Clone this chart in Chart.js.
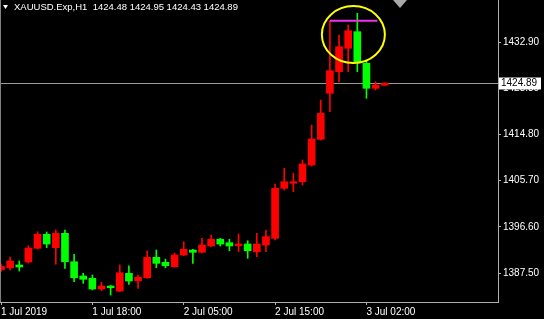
<!DOCTYPE html>
<html>
<head>
<meta charset="utf-8">
<script src="https://cdn.jsdelivr.net/npm/chart.js@4.4.1/dist/chart.umd.min.js"></script>
<style>
  html, body { margin: 0; padding: 0; background: #000; }
  #wrap { width: 544px; height: 319px; }
</style>
</head>
<body>
<div id="wrap"><canvas id="grafica" width="544" height="319"></canvas></div>
<script>
// Datos de las velas H1 (apertura, máximo, mínimo, cierre)
const simbolo = 'XAUUSD.Exp,H1';
const aperturas = [1388.1, 1388.54, 1389.07, 1389.66, 1392.36, 1395.12, 1392.48, 1395.32, 1389.72, 1386.91,
  1386.45, 1384.35, 1384.94, 1383.95, 1387.44, 1385.98, 1386.57, 1390.59, 1389.6, 1388.74,
  1391.04, 1392.03, 1391.58, 1392.82, 1394.14, 1393.47, 1392.87, 1393.21, 1391.69, 1393.01,
  1394.33, 1404.18, 1405.17, 1405.48, 1408.77, 1413.83, 1422.89, 1427.15, 1431.76, 1435.03,
  1428.8, 1423.88, 1424.48];
const maximos = [1389.3, 1390.65, 1389.86, 1392.87, 1395.63, 1395.57, 1395.97, 1395.97, 1391.18, 1387.44,
  1387.1, 1385.67, 1385.04, 1389.07, 1388.93, 1387.1, 1391.83, 1392.03, 1390.24, 1391.44,
  1393.66, 1392.17, 1394.33, 1394.98, 1394.33, 1394.14, 1395.18, 1393.86, 1395.32, 1395.97,
  1405.03, 1408.12, 1407.14, 1409.76, 1416.65, 1421.57, 1437.13, 1434.38, 1436.35, 1438.65,
  1429.45, 1425.18, 1424.95];
const minimos = [1387.8, 1388.09, 1387.89, 1389.47, 1392.22, 1392.48, 1389.21, 1388.42, 1385.78, 1385.47,
  1384.15, 1384.01, 1383.16, 1383.81, 1385.27, 1384.48, 1386.45, 1388.54, 1388.54, 1388.62,
  1390.9, 1389.41, 1391.44, 1392.68, 1392.82, 1391.89, 1391.69, 1390.39, 1390.71, 1391.69,
  1394.0, 1403.85, 1403.51, 1404.83, 1408.57, 1413.69, 1419.27, 1425.18, 1427.15, 1427.15,
  1421.91, 1423.54, 1424.43];
const cierres = [1388.8, 1389.86, 1388.68, 1392.42, 1395.12, 1393.21, 1395.32, 1389.72, 1386.57, 1386.26,
  1384.35, 1384.94, 1384.6, 1387.56, 1385.92, 1386.65, 1390.59, 1389.41, 1388.93, 1391.04,
  1392.17, 1391.58, 1393.01, 1394.14, 1393.21, 1392.82, 1393.21, 1391.89, 1393.21, 1394.65,
  1404.18, 1405.48, 1405.48, 1408.97, 1413.89, 1418.95, 1427.34, 1432.07, 1435.22, 1428.92,
  1423.88, 1424.5, 1424.89];

// Etiquetas de los ejes
const etiquetasTiempo = ['1 Jul 2019', '1 Jul 18:00', '2 Jul 05:00', '2 Jul 15:00', '3 Jul 02:00'];
const barrasTiempo = [0, 10, 20, 30, 40];
const ticksPrecio = [1387.5, 1396.6, 1405.7, 1414.8, 1423.8, 1432.9];

// Marcas dibujadas a mano sobre el gráfico
const nivelTecho = 1437.2;
const techoDesde = 36;
const techoHasta = 41.2;
const elipse = { x: 38.57, y: 1434.47, rx: 3.45, ry: 5.61 };

const ROJO = '#ff0000';
const VERDE = '#00ff00';
const fuente = '"Liberation Sans", Arial, sans-serif';

const colorVela = (i) => cierres[i] >= aperturas[i] ? ROJO : VERDE;

const mechas = aperturas.map((_, i) => ({ x: i, y: [minimos[i], maximos[i]] }));
const cuerpos = aperturas.map((_, i) => ({ x: i, y: [aperturas[i], cierres[i]] }));
const ultimo = cierres.length - 1;
const precioActual = cierres[ultimo];

const pluginExtras = {
  id: 'extras',
  beforeDatasetsDraw(chart) {
    const { ctx, chartArea, scales } = chart;
    const y = Math.round(scales.y.getPixelForValue(precioActual)) + 0.5;
    ctx.save();
    ctx.strokeStyle = '#9a9a9a';
    ctx.lineWidth = 1;
    ctx.beginPath();
    ctx.moveTo(chartArea.left, y);
    ctx.lineTo(chartArea.right, y);
    ctx.stroke();
    ctx.restore();
  },
  afterDatasetsDraw(chart) {
    const { ctx, scales } = chart;
    const cx = scales.x.getPixelForValue(elipse.x);
    const cy = scales.y.getPixelForValue(elipse.y);
    const rx = scales.x.getPixelForValue(elipse.x + elipse.rx) - cx;
    const ry = cy - scales.y.getPixelForValue(elipse.y + elipse.ry);
    ctx.save();
    ctx.strokeStyle = '#ffff00';
    ctx.lineWidth = 2;
    ctx.beginPath();
    ctx.ellipse(cx, cy, rx, ry, 0, 0, Math.PI * 2);
    ctx.stroke();
    ctx.restore();
  },
  afterDraw(chart) {
    const { ctx, chartArea, scales } = chart;
    ctx.save();
    // borde izquierdo
    ctx.strokeStyle = '#808080';
    ctx.lineWidth = 1;
    ctx.beginPath();
    ctx.moveTo(0.5, chartArea.top);
    ctx.lineTo(0.5, chartArea.bottom);
    ctx.stroke();

    // etiqueta del precio actual
    const y = Math.round(scales.y.getPixelForValue(precioActual)) + 0.5;
    ctx.fillStyle = '#ffffff';
    ctx.fillRect(chartArea.right + 1, y - 6, 42, 12);
    ctx.fillStyle = '#000000';
    ctx.font = '10px ' + fuente;
    ctx.textBaseline = 'middle';
    ctx.fillText(precioActual.toFixed(2), chartArea.right + 3, y);

    // título
    ctx.fillStyle = '#ffffff';
    ctx.beginPath();
    ctx.moveTo(3, 5);
    ctx.lineTo(8, 5);
    ctx.lineTo(5.5, 9);
    ctx.closePath();
    ctx.fill();
    const titulo = simbolo + '  ' + [aperturas[ultimo], maximos[ultimo], minimos[ultimo], cierres[ultimo]]
      .map(v => v.toFixed(2)).join(' ');
    ctx.font = '9.5px ' + fuente;
    ctx.fillText(titulo, 14, 7.5);

    // marcador de desplazamiento
    ctx.fillStyle = '#a8a8a8';
    ctx.beginPath();
    ctx.moveTo(393, 0);
    ctx.lineTo(407, 0);
    ctx.lineTo(400, 8);
    ctx.closePath();
    ctx.fill();
    ctx.restore();
  }
};

const ctx = document.getElementById('grafica').getContext('2d');
new Chart(ctx, {
  type: 'bar',
  data: {
    datasets: [
      {
        label: 'mechas',
        data: mechas,
        backgroundColor: (c) => colorVela(c.dataIndex),
        barThickness: 1,
        grouped: false,
        borderWidth: 0,
        order: 2
      },
      {
        label: 'cuerpos',
        data: cuerpos,
        backgroundColor: (c) => colorVela(c.dataIndex),
        barThickness: 7,
        minBarLength: 1,
        grouped: false,
        borderWidth: 0,
        order: 1
      },
      {
        type: 'line',
        label: 'techo',
        data: [{ x: techoDesde, y: nivelTecho }, { x: techoHasta, y: nivelTecho }],
        borderColor: '#f030f0',
        borderWidth: 2,
        pointRadius: 0,
        order: 0
      }
    ]
  },
  options: {
    responsive: false,
    animation: false,
    devicePixelRatio: 1,
    layout: { padding: 0 },
    plugins: {
      legend: { display: false },
      tooltip: { enabled: false },
      title: { display: false }
    },
    scales: {
      x: {
        type: 'linear',
        min: -0.11,
        max: 54.4,
        offset: false,
        afterFit: (s) => { s.height = 17; s.paddingLeft = 0; s.paddingRight = 0; },
        afterBuildTicks: (s) => { s.ticks = barrasTiempo.map(v => ({ value: v })); },
        grid: { display: true, offset: false, drawOnChartArea: false, drawTicks: true, tickLength: 3, color: '#b0b0b0' },
        border: { display: true, color: '#b0b0b0' },
        ticks: {
          autoSkip: false,
          maxRotation: 0,
          align: 'start',
          padding: 1,
          color: '#ffffff',
          font: { family: fuente, size: 10 },
          callback: (v) => etiquetasTiempo[barrasTiempo.indexOf(v)]
        }
      },
      y: {
        position: 'right',
        min: 1381.79,
        max: 1441.27,
        afterFit: (s) => { s.width = 46; s.paddingTop = 0; s.paddingBottom = 0; },
        afterBuildTicks: (s) => { s.ticks = ticksPrecio.map(v => ({ value: v })); },
        grid: { display: true, drawOnChartArea: false, drawTicks: true, tickLength: 3, color: '#b0b0b0' },
        border: { display: true, color: '#b0b0b0' },
        ticks: {
          padding: 2,
          color: '#ffffff',
          font: { family: fuente, size: 10 },
          callback: (v) => v.toFixed(2)
        }
      }
    }
  },
  plugins: [pluginExtras]
});
</script>
</body>
</html>
